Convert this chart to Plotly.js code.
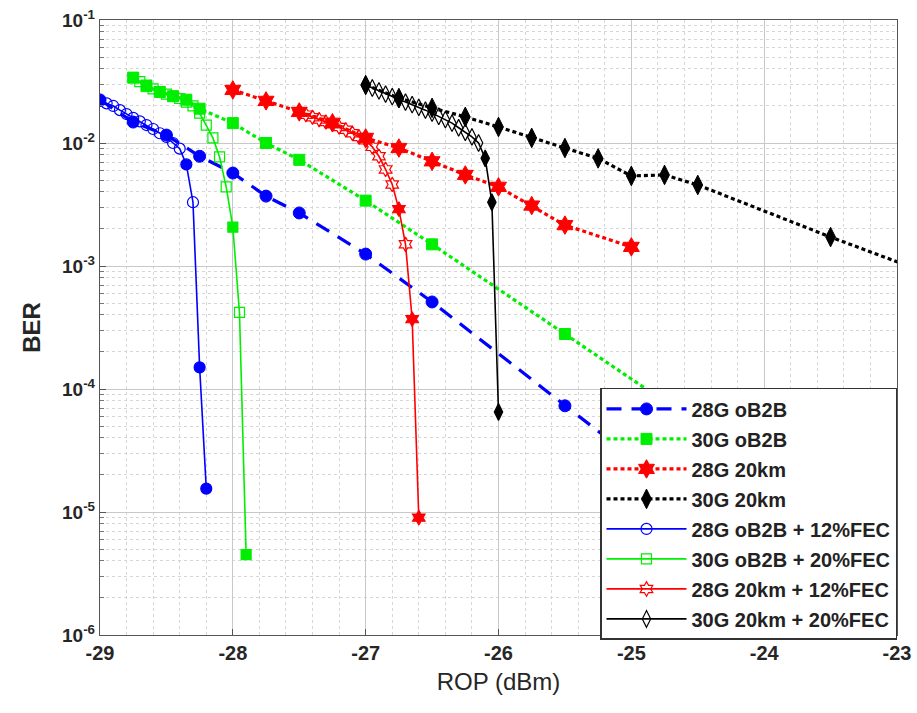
<!DOCTYPE html>
<html><head><meta charset="utf-8">
<script src="https://cdn.plot.ly/plotly-3.0.1.min.js"></script>
<style>html,body{margin:0;padding:0;background:#fff}#chart{width:917px;height:713px}</style>
</head><body><div id="chart"></div>
<script>
// ---- data ----
const names = ["28G oB2B","30G oB2B","28G 20km","30G 20km",
  "28G oB2B + 12%FEC","30G oB2B + 20%FEC","28G 20km + 12%FEC","30G 20km + 20%FEC"];

const b28_x = [-29,-28.75,-28.5,-28.25,-28,-27.75,-27.5,-27,-26.5,-25.5,-25];
const b28_y = [2.24e-2,1.48e-2,1.16e-2,7.8e-3,5.7e-3,3.7e-3,2.7e-3,1.25e-3,5.1e-4,7.3e-5,2.8e-5];

const b30_x = [-28.75,-28.65,-28.55,-28.45,-28.35,-28.25,-28,-27.75,-27.5,-27,-26.5,-25.5,-24.5];
const b30_y = [3.4e-2,2.9e-2,2.6e-2,2.4e-2,2.25e-2,1.9e-2,1.45e-2,1.0e-2,7.3e-3,3.4e-3,1.5e-3,2.8e-4,5.2e-5];

const k28_x = [-28,-27.75,-27.5,-27.25,-27,-26.75,-26.5,-26.25,-26,-25.75,-25.5,-25];
const k28_y = [2.7e-2,2.2e-2,1.79e-2,1.46e-2,1.1e-2,9.1e-3,7.1e-3,5.5e-3,4.4e-3,3.1e-3,2.15e-3,1.43e-3];

const k30_x = [-27,-26.75,-26.5,-26.25,-26,-25.75,-25.5,-25.25,-25,-24.75,-24.5,-23.5,-22.5];
const k30_y = [2.96e-2,2.32e-2,1.93e-2,1.63e-2,1.35e-2,1.1e-2,9.1e-3,7.5e-3,5.4e-3,5.5e-3,4.56e-3,1.72e-3,6.8e-4];

const f28b_x = [-29,-28.95,-28.9,-28.85,-28.8,-28.75,-28.7,-28.65,-28.6,-28.55,-28.5,-28.45,-28.4,-28.35,-28.3,-28.25,-28.2];
const f28b_y = [2.2e-2,2.1e-2,2.0e-2,1.85e-2,1.72e-2,1.6e-2,1.5e-2,1.4e-2,1.3e-2,1.2e-2,1.12e-2,1.0e-2,9.0e-3,6.7e-3,3.3e-3,1.5e-4,1.55e-5];
const f28b_filled = [0,0,0,0,0,0,0,0,0,0,0,0,0,1,0,1,1];

const f30b_x = [-28.75,-28.7,-28.65,-28.6,-28.55,-28.5,-28.45,-28.4,-28.35,-28.3,-28.25,-28.2,-28.15,-28.1,-28.05,-28,-27.95,-27.9];
const f30b_y = [3.4e-2,3.15e-2,2.95e-2,2.75e-2,2.6e-2,2.5e-2,2.4e-2,2.3e-2,2.15e-2,2.0e-2,1.75e-2,1.4e-2,1.1e-2,7.7e-3,4.4e-3,2.07e-3,4.2e-4,4.5e-6];
const f30b_filled = [0,0,0,0,0,0,0,0,0,0,0,0,0,0,0,1,0,1];

const f28k_x = [-27.5,-27.45,-27.4,-27.35,-27.3,-27.25,-27.2,-27.15,-27.1,-27.05,-27,-26.95,-26.9,-26.85,-26.8,-26.75,-26.7,-26.65,-26.6];
const f28k_y = [1.8e-2,1.7e-2,1.62e-2,1.55e-2,1.48e-2,1.42e-2,1.35e-2,1.28e-2,1.2e-2,1.12e-2,1.05e-2,9.3e-3,7.8e-3,6.1e-3,4.6e-3,2.9e-3,1.5e-3,3.7e-4,9e-6];
const f28k_filled = [0,0,0,0,0,0,0,0,0,0,0,0,0,0,0,1,0,1,1];

const f30k_x = [-27,-26.95,-26.9,-26.85,-26.8,-26.75,-26.7,-26.65,-26.6,-26.55,-26.5,-26.45,-26.4,-26.35,-26.3,-26.25,-26.2,-26.15,-26.1,-26.05,-26];
const f30k_y = [2.96e-2,2.8e-2,2.65e-2,2.5e-2,2.38e-2,2.27e-2,2.15e-2,2.05e-2,1.95e-2,1.85e-2,1.75e-2,1.65e-2,1.55e-2,1.45e-2,1.33e-2,1.22e-2,1.12e-2,1.0e-2,7.5e-3,3.3e-3,6.5e-5];
const f30k_filled = [0,0,0,0,0,0,0,0,0,0,0,0,0,0,0,0,0,0,1,1,1];

const yTickVals = [1e-6,1e-5,1e-4,1e-3,1e-2,1e-1];
const yTickText = ["10<sup>-6</sup>","10<sup>-5</sup>","10<sup>-4</sup>","10<sup>-3</sup>","10<sup>-2</sup>","10<sup>-1</sup>"];
const xTickVals = [-29,-28,-27,-26,-25,-24,-23];

// ---- styling helpers ----
const BLUE="#0000ff", GREEN="#00ee00", RED="#ff0000", BLACK="#000000";
function mainTrace(x,y,name,color,dash,symbol,size,gi){
  return {x:x,y:y,name:name,type:"scatter",mode:"lines+markers",legendgroup:"g"+gi,
    line:{color:color,width:3.2,dash:dash},
    marker:{symbol:symbol,size:size,color:color,line:{color:color,width:1}}};
}
function fecTrace(x,y,filled,name,color,sym,size,gi){
  const syms = filled.map(f=> f ? sym : sym+"-open");
  return {x:x,y:y,name:name,type:"scatter",mode:"lines+markers",legendgroup:"g"+gi,
    line:{color:color,width:1.6},
    marker:{symbol:syms,size:size,color:color,line:{color:color,width:1.2}}};
}

const traces = [
  mainTrace(b28_x,b28_y,names[0],BLUE,"15px,10px","circle",12,0),
  mainTrace(b30_x,b30_y,names[1],GREEN,"4px,3px","square",11,1),
  mainTrace(k28_x,k28_y,names[2],RED,"4px,3px","hexagram",14,2),
  mainTrace(k30_x,k30_y,names[3],BLACK,"4px,3px","diamond-tall",14,3),
  fecTrace(f28b_x,f28b_y,f28b_filled,names[4],BLUE,"circle",11,4),
  fecTrace(f30b_x,f30b_y,f30b_filled,names[5],GREEN,"square",10,5),
  fecTrace(f28k_x,f28k_y,f28k_filled,names[6],RED,"hexagram",11,6),
  fecTrace(f30k_x,f30k_y,f30k_filled,names[7],BLACK,"diamond-tall",12,7)
];

const minorY = [];
for (let e=-6; e<-1; e++) for (let m=2; m<=9; m++) minorY.push(m*Math.pow(10,e));

const tickFont = {family:"Liberation Sans Narrow, Arial Narrow, Liberation Sans, Arial", size:20, color:"#262626", weight:"bold"};

const layout = {
  width:917, height:713,
  margin:{l:100, r:20, t:20, b:78},
  paper_bgcolor:"#fff", plot_bgcolor:"#fff",
  showlegend:true,
  xaxis:{range:[-29,-23], tickmode:"array", tickvals:xTickVals, ticktext:xTickVals.map(String),
    showline:true, mirror:true, linecolor:"#555", linewidth:1.2,
    ticks:"inside", ticklen:6, tickcolor:"#555",
    showgrid:true, gridcolor:"#c8c8c8", gridwidth:1, zeroline:false,
    minor:{dtick:0.2, showgrid:true, gridcolor:"#d6d6d6", griddash:"dot", ticks:"", ticklen:3},
    tickfont:tickFont,
    title:{text:"ROP (dBm)", font:{family:"Liberation Sans Narrow, Liberation Sans, Arial", size:24, color:"#262626"}, standoff:10}},
  yaxis:{type:"log", range:[-6,-1], tickmode:"array", tickvals:yTickVals, ticktext:yTickText,
    showline:true, mirror:true, linecolor:"#555", linewidth:1.2,
    ticks:"inside", ticklen:6, tickcolor:"#555",
    showgrid:true, gridcolor:"#c8c8c8", gridwidth:1, zeroline:false,
    minor:{tickmode:"array", tickvals:minorY, showgrid:true, gridcolor:"#d6d6d6", griddash:"dot", ticks:"inside", ticklen:4, tickcolor:"#777"},
    tickfont:{family:"Liberation Sans, Arial", size:19, color:"#262626", weight:"bold"},
    title:{text:"BER", font:{family:"Liberation Sans, Arial", size:24, color:"#262626", weight:"bold"}, standoff:14}},
  legend:{x:1, xanchor:"right", y:-0.008, yanchor:"bottom",
    bgcolor:"#ffffff", bordercolor:"#333", borderwidth:1.5,
    font:{family:"Liberation Sans, Arial", size:20, color:"#222", weight:"bold"},
    itemwidth:80, tracegroupgap:1, traceorder:"grouped"}
};

Plotly.newPlot("chart", traces, layout, {displayModeBar:false, staticPlot:true});
</script>
</body></html>
